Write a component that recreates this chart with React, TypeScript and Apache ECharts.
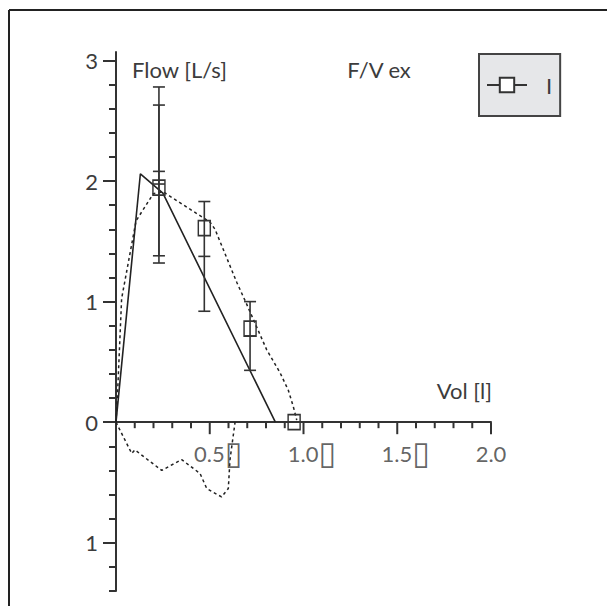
import React, { useEffect, useRef } from "react";
import * as echarts from "echarts";

// Measured expiratory flow-volume curve (dotted)
const volExp = [0, 0.01, 0.03, 0.107, 0.199, 0.252, 0.501, 0.528, 0.644, 0.688, 0.75, 0.804, 0.875, 0.919, 0.946, 0.964];
const flowExp = [0, 0.3, 1.025, 1.67, 1.895, 1.91, 1.66, 1.6, 1.16, 1.01, 0.79, 0.6, 0.41, 0.265, 0.127, 0.017];
// Measured inspiratory curve (dotted, below axis)
const volInsp = [0, 0.084, 0.101, 0.244, 0.35, 0.448, 0.484, 0.563, 0.599, 0.608, 0.635];
const flowInsp = [0, -0.26, -0.23, -0.4, -0.31, -0.425, -0.55, -0.62, -0.55, -0.31, 0];
// Predicted curve (solid)
const volPred = [0, 0.13, 0.25, 0.85];
const flowPred = [0, 2.06, 1.9, 0];
// Series "I" squares
const meanVol = [0.229, 0.471, 0.715, 0.95];
const meanFlow = [1.945, 1.61, 0.776, 0];
// Error bars
const barVol = [0.229, 0.229, 0.471, 0.715];
const barLow = [1.38, 1.32, 0.92, 0.43];
const barMid = [2.08, 1.975, 1.375, 0.715];
const barHigh = [2.78, 2.63, 1.83, 1.0];

const xMajorTicks = [0.5, 1.0, 1.5, 2.0];
const xTickLabels = ["0.5", "1.0", "1.5", "2.0"];
const xTickMissing = [true, true, true, false];
const xMinorTicks = [0.1, 0.2, 0.3, 0.4, 0.6, 0.7, 0.8, 0.9, 1.1, 1.2, 1.3, 1.4, 1.6, 1.7, 1.8, 1.9];
const yMajorTicks = [-1, 0, 1, 2, 3];
const yTickLabels = ["1", "0", "1", "2", "3"];
const yMinorTicks = [-1.4, -1.2, -0.8, -0.6, -0.4, -0.2, 0.2, 0.4, 0.6, 0.8, 1.2, 1.4, 1.6, 1.8, 2.2, 2.4, 2.6, 2.8];

const FONT = "Lato, 'DejaVu Sans', sans-serif";
const INK = "#333333";
const TXT = "#3c3c3c";

const pairs = (xs: number[], ys: number[]) => xs.map((x, i) => [x, ys[i]]);

export default function App() {
  const ref = useRef<HTMLDivElement>(null);
  useEffect(() => {
    if (!ref.current) return;
    const chart = echarts.init(ref.current, null, { renderer: "svg" });
    const xMin = 0, xMax = 2.0, yMin = -1.4, yMax = 3.07;
    const baseY = { type: "value", min: yMin, max: yMax, splitLine: { show: false }, position: "left", offset: 0 };
    const xTickData = [
      ...xMajorTicks.map((v) => [v, 12]),
      ...xMinorTicks.map((v) => [v, 6]),
    ];
    chart.setOption({
      animation: false,
      backgroundColor: "#ffffff",
      grid: { left: 116, right: 116, top: 52, bottom: 15, containLabel: false, outerBoundsMode: "none" },
      xAxis: {
        type: "value", min: xMin, max: xMax, splitLine: { show: false },
        axisLine: { show: true, onZero: true, lineStyle: { color: INK, width: 2 } },
        axisTick: { show: false },
        axisLabel: { show: false },
      },
      yAxis: [
        {
          ...baseY,
          axisLine: { show: true, lineStyle: { color: INK, width: 2 } },
          axisTick: { show: true, length: 13, customValues: yMajorTicks, lineStyle: { color: INK, width: 2 } },
          axisLabel: {
            show: true, customValues: yMajorTicks, margin: 18, fontSize: 22, fontFamily: FONT, color: TXT,
            formatter: (v: number) => {
              const i = yMajorTicks.findIndex((t) => Math.abs(t - v) < 1e-6);
              return i < 0 ? "" : yTickLabels[i];
            },
          },
        },
        {
          ...baseY,
          axisLine: { show: false },
          axisTick: { show: true, length: 7, customValues: yMinorTicks, lineStyle: { color: INK, width: 2 } },
          axisLabel: { show: false },
        },
      ],
      legend: {
        data: ["I"], left: 479, top: 54, orient: "horizontal",
        padding: [20, 8, 20, 7], itemWidth: 40, itemHeight: 18,
        backgroundColor: "#e6e7e9", borderColor: "#444", borderWidth: 2, borderRadius: 0,
        textStyle: { fontSize: 22, color: TXT, fontFamily: FONT, padding: [0, 0, 0, 14] },
        lineStyle: { color: INK, width: 2, opacity: 1 },
        itemStyle: { color: "#ffffff", borderColor: INK, borderWidth: 2 },
        selectedMode: false,
      },
      graphic: [
        { type: "line", shape: { x1: 9, y1: 10, x2: 607, y2: 10 }, style: { stroke: "#222", lineWidth: 2 } },
        { type: "line", shape: { x1: 9, y1: 10, x2: 9, y2: 606 }, style: { stroke: "#222", lineWidth: 2 } },
        { type: "text", x: 132, y: 58, style: { text: "Flow [L/s]", fontSize: 22, fontFamily: FONT, fill: TXT } },
        { type: "text", x: 379, y: 58, style: { text: "F/V ex", fontSize: 22, fontFamily: FONT, fill: TXT, align: "center" } },
        { type: "text", x: 492, y: 379, style: { text: "Vol [l]", fontSize: 22, fontFamily: FONT, fill: TXT, align: "right" } },
      ],
      series: [
        {
          // x-axis ticks hanging below the flow = 0 line
          type: "custom", name: "xticks", silent: true, z: 2,
          data: xTickData, encode: { x: 0 },
          renderItem: (_p: any, api: any) => {
            const p = api.coord([api.value(0), 0]);
            const len = api.value(1);
            return {
              type: "line", shape: { x1: p[0], y1: p[1], x2: p[0], y2: p[1] + len },
              style: { stroke: INK, lineWidth: 2 },
            };
          },
        },
        {
          type: "line", name: "pred", data: pairs(volPred, flowPred), showSymbol: false, symbol: "none",
          lineStyle: { color: "#222", width: 1.6, type: "solid" }, z: 3,
        },
        {
          type: "line", name: "exp", data: pairs(volExp, flowExp), showSymbol: false, symbol: "none",
          lineStyle: { color: "#222", width: 1.5, type: [3, 3] }, z: 3,
        },
        {
          type: "line", name: "insp", data: pairs(volInsp, flowInsp), showSymbol: false, symbol: "none",
          lineStyle: { color: "#222", width: 1.5, type: [3, 3] }, z: 3,
        },
        {
          type: "custom", name: "bars", data: barVol.map((x, i) => [x, barLow[i], barMid[i], barHigh[i]]),
          encode: { x: 0, y: [1, 2, 3] }, z: 4,
          renderItem: (_p: any, api: any) => {
            const x = api.value(0);
            const lo = api.coord([x, api.value(1)]);
            const mi = api.coord([x, api.value(2)]);
            const hi = api.coord([x, api.value(3)]);
            const hw = 6;
            const style = { stroke: INK, lineWidth: 1.6, fill: null };
            const cap = (p: number[]) => ({ type: "line", shape: { x1: p[0] - hw, y1: p[1], x2: p[0] + hw, y2: p[1] }, style });
            return {
              type: "group",
              children: [
                { type: "line", shape: { x1: lo[0], y1: lo[1], x2: hi[0], y2: hi[1] }, style },
                cap(lo), cap(mi), cap(hi),
              ],
            };
          },
        },
        {
          type: "line", name: "I", data: pairs(meanVol, meanFlow), symbol: "rect", symbolSize: [12, 15], showSymbol: true,
          lineStyle: { opacity: 0, width: 0 },
          itemStyle: { color: "rgba(255,255,255,0)", borderColor: INK, borderWidth: 1.6 },
          z: 5,
        },
        {
          // x-axis tick labels, placed under the flow = 0 line
          type: "scatter", name: "xlabels", silent: true, symbolSize: 0, z: 6,
          data: xMajorTicks.map((v) => [v, 0]),
          itemStyle: { color: "rgba(0,0,0,0)" },
          label: {
            show: true, position: "bottom", distance: 14,
            formatter: (p: any) => {
              const i = p.dataIndex;
              return xTickMissing[i] ? `{pad| }{n|${xTickLabels[i]}}{box|▯}` : `{n|${xTickLabels[i]}}`;
            },
            rich: {
              pad: { width: 17, fontSize: 22, lineHeight: 34 },
              n: { fontSize: 22, fontFamily: FONT, color: TXT, lineHeight: 34 },
              box: { fontSize: 32, fontFamily: "'DejaVu Sans'", color: TXT, lineHeight: 34 },
            },
          },
        },
      ],
    });
    return () => chart.dispose();
  }, []);
  return <div ref={ref} style={{ position: "fixed", left: 0, top: 0, width: 607, height: 606, background: "#fff" }} />;
}
